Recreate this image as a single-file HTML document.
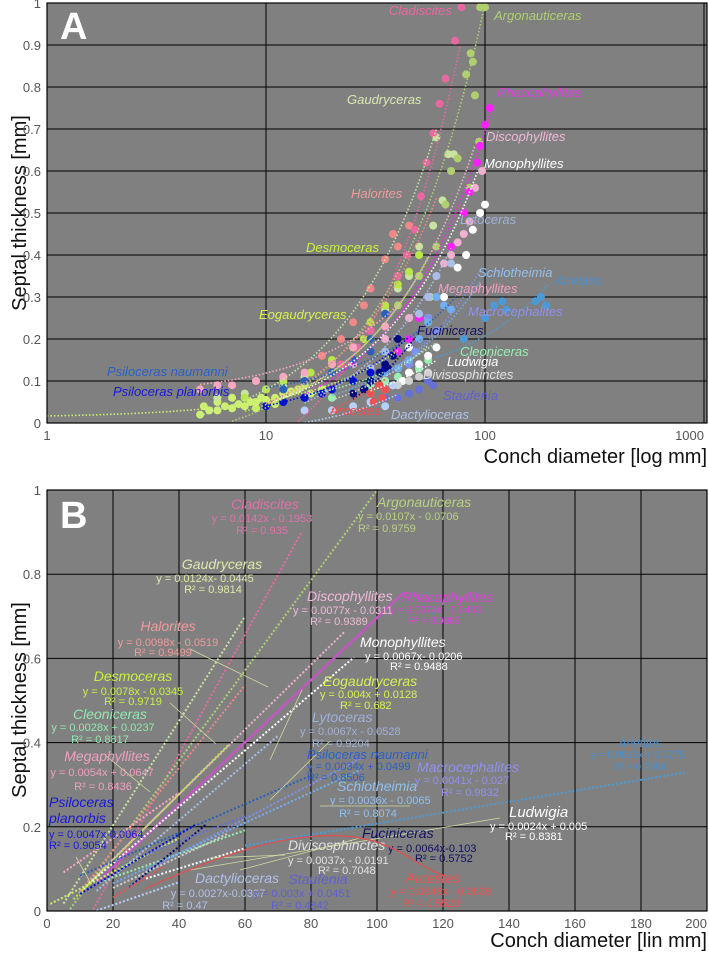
<!DOCTYPE html>
<html><head><meta charset="utf-8"><style>
html,body{margin:0;padding:0;background:#fff;}
svg{display:block;font-family:"Liberation Sans",sans-serif;}
</style></head><body>
<svg id="chart" width="709" height="955" viewBox="0 0 709 955" xmlns="http://www.w3.org/2000/svg">
<rect x="47" y="3" width="660" height="420" fill="#808080"/>
<rect x="47" y="490" width="660" height="421" fill="#808080"/>
<g id="gridA"></g>
<g id="gridB"></g>
<g id="marksA"></g>
<g id="marksB"></g>
<g id="labelsA"></g>
<g id="labelsB"></g>
<text x="60" y="39" font-size="38" font-weight="bold" fill="#fff">A</text>
<text x="60" y="528" font-size="38" font-weight="bold" fill="#fff">B</text>
<text transform="translate(26,213) rotate(-90)" text-anchor="middle" font-size="20" fill="#111">Septal thickness [mm]</text>
<text transform="translate(26,700) rotate(-90)" text-anchor="middle" font-size="20" fill="#111">Septal thickness [mm]</text>
<text x="707" y="463" text-anchor="end" font-size="20" fill="#111">Conch diameter [log mm]</text>
<text x="707" y="947" text-anchor="end" font-size="20" fill="#111">Conch diameter [lin mm]</text>
<path d="M145,889 C230,850 300,828 360,838 C400,845 420,868 445,876" fill="none" stroke="#e05050" stroke-width="1.2"/>
</svg>
<script>
const NS="http://www.w3.org/2000/svg";
// ---- data ----
const speciesNames=["Cladiscites","Argonauticeras","Gaudryceras","Rhacophyllites","Discophyllites","Monophyllites","Halorites","Desmoceras","Eogaudryceras","Lytoceras","Cleoniceras","Megaphyllites","Psiloceras naumanni","Macrocephalites","Schlotheimia","Arietites","Psiloceras planorbis","Ludwigia","Fuciniceras","Divisosphinctes","Dactylioceras","Staufenia","Arcestes"];
const fitSlopes=[0.0142,0.0107,0.0124,0.0074,0.0077,0.0067,0.0098,0.0078,0.004,0.0067,0.0028,0.0054,0.0034,0.0041,0.0036,0.0013,0.0047,0.0024,0.0064,0.0037,0.0027,0.003,0.0048];
const fitIntercepts=[-0.1953,-0.0706,-0.0445,-0.0433,-0.0311,-0.0206,-0.0519,-0.0345,0.0128,-0.0528,0.0237,0.0647,0.0499,-0.027,-0.0065,0.0775,-0.0064,0.005,-0.103,-0.0191,-0.0397,0.0451,-0.0639];
const fitMin=[14,7,5,15,10,10,10,8,1,15,15,5,10,30,20,60,10,30,25,20,15,30,20];
const fitMax=[77,100,60,108,90,93,60,55,40,70,60,40,80,95,95,194,45,60,48,55,40,60,35];
const xTicksA=[1,10,100,1000];
const yTicksA=[0,0.1,0.2,0.3,0.4,0.5,0.6,0.7,0.8,0.9,1];
const xTicksB=[0,20,40,60,80,100,120,140,160,180,200];
const yTicksB=[0,0.2,0.4,0.6,0.8,1];
const cladiscitesPts=[[78,0.99],[73,0.91],[66,0.82],[62,0.76],[58,0.69],[54,0.62],[51,0.54],[48,0.46],[44,0.40],[40,0.35],[35,0.28],[30,0.22],[26,0.18],[22,0.14]];
const argonauticerasPts=[[95,0.99],[100,0.99],[88,0.86],[86,0.88],[82,0.83],[90,0.78],[94,0.67],[85,0.56],[75,0.63],[70,0.6],[66,0.52],[60,0.42],[50,0.35],[40,0.28],[30,0.2],[20,0.14]];
const gaudrycerasPts=[[60,0.68],[68,0.64],[72,0.64],[64,0.53],[58,0.47],[56,0.3],[50,0.42],[45,0.35],[40,0.32],[35,0.27],[30,0.22],[25,0.18],[20,0.14],[15,0.11],[12,0.09],[10,0.08],[8,0.07],[6,0.06]];
const rhacophyllitesPts=[[105,0.75],[100,0.71],[95,0.66],[92,0.62],[85,0.55],[80,0.5],[70,0.42],[60,0.35],[55,0.3],[50,0.25],[45,0.2],[40,0.17],[30,0.13],[25,0.1]];
const discophyllitesPts=[[97,0.6],[90,0.56],[85,0.48],[80,0.45],[75,0.43],[70,0.4],[65,0.38],[55,0.3],[45,0.25],[35,0.2],[25,0.14]];
const monophyllitesPts=[[100,0.52],[95,0.5],[88,0.46],[82,0.4],[75,0.37],[65,0.3],[55,0.25],[45,0.18],[35,0.14]];
const haloritesPts=[[45,0.47],[40,0.42],[38,0.45],[35,0.39],[30,0.32],[28,0.28],[25,0.24],[22,0.2],[18,0.16]];
const desmocerasPts=[[50,0.4],[45,0.36],[40,0.33],[35,0.28],[30,0.24],[28,0.2],[25,0.18],[20,0.15],[16,0.12],[12,0.1],[10,0.08],[8,0.06]];
const eogaudrycerasPts=[[5,0.02],[5.5,0.03],[6,0.03],[6.5,0.04],[7,0.035],[7.5,0.045],[8,0.04],[8.5,0.05],[9,0.05],[9.5,0.06],[10,0.055],[11,0.06],[12,0.07],[13,0.075],[14,0.08],[15,0.09],[6,0.05],[7,0.06],[8,0.06],[5.2,0.04],[9,0.035],[10,0.04],[11,0.045],[16,0.07],[18,0.08]];
const lytocerasPts=[[70,0.38],[60,0.35],[55,0.3],[50,0.26],[40,0.2],[35,0.17],[30,0.13],[25,0.1]];
const cleonicerasPts=[[55,0.15],[50,0.13],[45,0.12],[40,0.11],[35,0.1],[30,0.09],[25,0.07],[20,0.06]];
const megaphyllitesPts=[[5,0.08],[6,0.09],[7,0.09],[9,0.1],[12,0.11],[15,0.12],[20,0.14],[25,0.18],[30,0.2],[35,0.23]];
const naumanniPts=[[35,0.26],[30,0.2],[25,0.15],[20,0.12],[15,0.1],[12,0.08],[30,0.17]];
const macrocephalitesPts=[[60,0.22],[55,0.25],[50,0.2],[48,0.17],[45,0.14],[40,0.13]];
const schlotheimiaPts=[[60,0.3],[65,0.28],[70,0.27],[55,0.24],[50,0.2],[45,0.15],[40,0.13],[35,0.12]];
const arietitesPts=[[110,0.28],[120,0.29],[125,0.27],[170,0.29],[180,0.3],[190,0.28],[100,0.25],[80,0.2]];
const planorbisPts=[[10,0.04],[12,0.05],[15,0.06],[18,0.07],[20,0.08],[25,0.1],[30,0.12],[35,0.13]];
const ludwigiaPts=[[60,0.18],[55,0.16],[50,0.14],[45,0.12],[42,0.1],[38,0.09]];
const fucinicerasPts=[[40,0.2],[38,0.16],[35,0.14],[33,0.12],[30,0.1],[28,0.08],[25,0.07],[36,0.13]];
const divisosphinctesPts=[[55,0.12],[50,0.11],[45,0.1],[40,0.09],[35,0.08],[30,0.07]];
const dactyliocerasPts=[[40,0.06],[35,0.04],[30,0.05],[25,0.04],[20,0.03],[15,0.03],[38,0.09]];
const staufeniaPts=[[58,0.09],[50,0.08],[45,0.07],[40,0.06],[35,0.06],[55,0.1]];
const arcestesPts=[[33,0.09],[35,0.08],[30,0.07],[34,0.06],[31,0.05]];
const pointSets=[cladiscitesPts,argonauticerasPts,gaudrycerasPts,rhacophyllitesPts,discophyllitesPts,monophyllitesPts,haloritesPts,desmocerasPts,eogaudrycerasPts,lytocerasPts,cleonicerasPts,megaphyllitesPts,naumanniPts,macrocephalitesPts,schlotheimiaPts,arietitesPts,planorbisPts,ludwigiaPts,fucinicerasPts,divisosphinctesPts,dactyliocerasPts,staufeniaPts,arcestesPts];
// ---- styles ----
const speciesColors=["#e868a0","#b0d070","#c8e4a0","#ff20ff","#f0b0d0","#ffffff","#f08888","#b8e848","#cdf070","#a8c0e8","#98f0b0","#f8a8c0","#2a60b8","#8090f0","#70b0f0","#4a9ad8","#0010d0","#ffffff","#000a80","#d0d0d0","#b8d0f8","#6670d8","#f05050"];
// ---- axes ----
function ax(d){return 47+219*Math.log10(d);}
function ay(t){return 423-420*t;}
function bx(x){return 47+x*3.3;}
function by(t){return 911-421*t;}
function mk(tag,attrs,parent){const e=document.createElementNS(NS,tag);for(const k in attrs)e.setAttribute(k,attrs[k]);parent.appendChild(e);return e;}
const gridA=document.getElementById('gridA'),gridB=document.getElementById('gridB');
const marksA=document.getElementById('marksA'),marksB=document.getElementById('marksB');
const svg=document.getElementById('chart');
yTicksA.forEach(t=>{
  const l=mk('line',{x1:47,x2:707,y1:ay(t),y2:ay(t),stroke:'#000','stroke-width':1},gridA);
  
  
  const tx=mk('text',{x:41,y:ay(t)+5,'text-anchor':'end','font-size':13,fill:'#555'},svg);
  tx.textContent=String(t);
  
  
});
xTicksA.forEach(d=>{
  const l=mk('line',{x1:ax(d),x2:ax(d),y1:3,y2:423,stroke:'#000','stroke-width':1},gridA);
  
  
  const tx=mk('text',{x:ax(d),y:440,'text-anchor':d===1000?'end':'middle','font-size':13,fill:'#555'},svg);
  tx.textContent=String(d);
  
  
});
yTicksB.forEach(t=>{
  const l=mk('line',{x1:47,x2:707,y1:by(t),y2:by(t),stroke:'#000','stroke-width':1},gridB);
  
  
  const tx=mk('text',{x:41,y:by(t)+5,'text-anchor':'end','font-size':13,fill:'#555'},svg);
  tx.textContent=String(t);
  
  
});
xTicksB.forEach(x=>{
  const l=mk('line',{x1:bx(x),x2:bx(x),y1:490,y2:911,stroke:'#000','stroke-width':1},gridB);
  
  
  const tx=mk('text',{x:bx(x),y:928,'text-anchor':x===200?'end':'middle','font-size':13,fill:'#555'},svg);
  tx.textContent=String(x);
  
  
});
const order=[8,2,1,0,7,11,6,4,3,5,9,10,12,13,14,15,16,17,18,19,20,21,22];
order.forEach(i=>{
  const slug=speciesNames[i].toLowerCase().replace(/ /g,'-');
  pointSets[i].forEach(p=>{
    const c=mk('circle',{cx:ax(p[0]),cy:ay(p[1]),r:4,fill:speciesColors[i]},marksA);
    
    
  });
});
speciesNames.forEach((n,i)=>{
  const slug=n.toLowerCase().replace(/ /g,'-');
  const a=fitSlopes[i],b=fitIntercepts[i];
  let pts=[];
  const steps=30;
  for(let k=0;k<=steps;k++){
    const x=fitMin[i]*Math.pow(fitMax[i]/fitMin[i],k/steps);
    const y=Math.max(0,a*x+b);
    pts.push(ax(x).toFixed(1)+','+ay(y).toFixed(1));
  }
  const pa=mk('polyline',{points:pts.join(' '),fill:'none',stroke:speciesColors[i],'stroke-width':1.6,'stroke-dasharray':'1.5,2'},marksA);
  
  
  let x0=Math.max(fitMin[i],b<0?-b/a:0);
  const isRh=i===3;
  const pb=mk('line',{x1:bx(x0),y1:by(a*x0+b),x2:bx(fitMax[i]),y2:by(a*fitMax[i]+b),stroke:isRh?'#c058c0':speciesColors[i],'stroke-width':isRh?2.5:2,'stroke-dasharray':isRh?'none':'2,2'},marksB);
  
  
});
const leaders=[[190,649,268,687],[170,703,216,744],[105,755,150,792],[76,857,90,882],[285,855,210,858],[410,806,320,806],[360,838,240,870],[500,818,190,870],[330,741,270,800],[302,690,270,760]];
leaders.forEach(L=>{
  const l=mk('line',{x1:L[0],y1:L[1],x2:L[2],y2:L[3],stroke:'#d0dca0','stroke-width':0.8},marksB);
  
  
});
function lab(g,txt,x,y,col,size,anchor,italic,name){
  const t=mk('text',{x:x,y:y,fill:col,'font-size':size,'text-anchor':anchor,'font-style':italic?'italic':'normal'},g);
  t.textContent=txt;
  
  
}
const LA=document.getElementById('labelsA');
const labelsA=[["Cladiscites",389,15,"#e868a0"],["Argonauticeras",494,20,"#b0d070"],["Gaudryceras",347,104,"#d8e8b0"],["Rhacophyllites",497,97,"#e040e0"],["Discophyllites",486,141,"#f0b8d8"],["Monophyllites",484,168,"#ffffff"],["Halorites",351,198,"#f09a9a"],["Lytoceras",460,224,"#a0b0d8"],["Desmoceras",306,252,"#c8f040"],["Schlotheimia",478,277,"#90c0f0"],["Arietites",555,285,"#4a90d0"],["Megaphyllites",438,293,"#f0a0c0"],["Eogaudryceras",259,319,"#d8f050"],["Macrocephalites",468,316,"#9090f0"],["Fuciniceras",417,335,"#101060"],["Cleoniceras",460,356,"#98f0b0"],["Ludwigia",447,366,"#ffffff"],["Divisosphinctes",423,379,"#e0e0e0"],["Staufenia",443,400,"#6060d0"],["Arcestes",330,415,"#f05050"],["Dactylioceras",391,419,"#b0c0e8"],["Psiloceras naumanni",107,376,"#2a60c8"],["Psiloceras planorbis",113,396,"#1818d8"]];
labelsA.forEach(l=>lab(LA,l[0],l[1],l[2],l[3],13,'start',true,'label-a-'+l[0].toLowerCase().replace(/ /g,'-')));
const LB=document.getElementById('labelsB');
const labelsB=[
["Cladiscites",265,509,"#e070a8",14,"middle",1],["y = 0.0142x - 0.1953",262,522,"#e070a8",11,"middle",0],["R² = 0.935",262,534,"#e070a8",11,"middle",0],
["Argonauticeras",377,507,"#b8d080",14,"start",1],["y = 0.0107x - 0.0706",358,520,"#b8d080",11,"start",0],["R² = 0.9759",358,532,"#b8d080",11,"start",0],
["Gaudryceras",222,569,"#dfeaa8",14,"middle",1],["y = 0.0124x- 0.0445",205,582,"#dfeaa8",11,"middle",0],["R² = 0.9814",213,593,"#dfeaa8",11,"middle",0],
["Discophyllites",307,601,"#f0b8d8",14,"start",1],["y = 0.0077x - 0.0311",293,614,"#f0b8d8",11,"start",0],["R² = 0.9389",310,625,"#f0b8d8",11,"start",0],
["Rhacophyllites",402,602,"#e040e0",14,"start",1],["y = 0.0074x - 0.0433",390,613,"#e040e0",10,"start",0],["R² = 0.9889",408,624,"#e040e0",10,"start",0],
["Halorites",168,631,"#f09a9a",14,"middle",1],["y = 0.0098x - 0.0519",168,646,"#f09a9a",11,"middle",0],["R² = 0.9499",163,656,"#f09a9a",11,"middle",0],
["Monophyllites",360,647,"#ffffff",14,"start",1],["y = 0.0067x- 0.0206",365,660,"#ffffff",11,"start",0],["R² = 0.9488",390,670,"#ffffff",11,"start",0],
["Desmoceras",133,681,"#c8f040",14,"middle",1],["y = 0.0078x - 0.0345",133,695,"#c8f040",11,"middle",0],["R² = 0.9719",133,705,"#c8f040",11,"middle",0],
["Eogaudryceras",323,686,"#d8f050",14,"start",1],["y = 0.004x + 0.0128",320,698,"#d8f050",11,"start",0],["R² = 0.682",340,709,"#d8f050",11,"start",0],
["Cleoniceras",73,719,"#90e8b0",14,"start",1],["y = 0.0028x + 0.0237",103,731,"#90e8b0",11,"middle",0],["R² = 0.8817",100,743,"#90e8b0",11,"middle",0],
["Lytoceras",312,722,"#a0b0d8",14,"start",1],["y = 0.0067x - 0.0528",300,735,"#a0b0d8",11,"start",0],["R² = 0.9204",312,747,"#a0b0d8",11,"start",0],
["Megaphyllites",107,761,"#f0a0c0",14,"middle",1],["y = 0.0054x + 0.0647",102,776,"#f0a0c0",11,"middle",0],["R² = 0.8436",103,790,"#f0a0c0",11,"middle",0],
["Psiloceras naumanni",307,759,"#2a60c8",13,"start",1],["y = 0.0034x + 0.0499",307,770,"#2a60c8",11,"start",0],["R² = 0.8506",307,781,"#2a60c8",11,"start",0],
["Macrocephalites",468,772,"#9090f0",14,"middle",1],["y = 0.0041x - 0.027",462,784,"#9090f0",11,"middle",0],["R² = 0.9832",470,796,"#9090f0",11,"middle",0],
["Schlotheimia",337,791,"#90c0f0",14,"start",1],["y = 0.0036x - 0.0065",330,804,"#90c0f0",11,"start",0],["R² = 0.8074",368,817,"#90c0f0",11,"middle",0],
["Arietites",640,747,"#4a90d0",12,"middle",1],["y = 0.0013x + 0.0775",638,758,"#4a90d0",10,"middle",0],["R² = 0.7984",640,770,"#4a90d0",10,"middle",0],
["Psiloceras",49,807,"#1818d8",14,"start",1],["planorbis",49,823,"#1818d8",14,"start",1],["y = 0.0047x-0.0064",49,838,"#1818d8",11,"start",0],["R² = 0.9054",49,849,"#1818d8",11,"start",0],
["Ludwigia",509,817,"#ffffff",15,"start",1],["y = 0.0024x + 0.005",490,830,"#ffffff",11,"start",0],["R² = 0.8381",505,840,"#ffffff",11,"start",0],
["Fuciniceras",362,838,"#101060",14,"start",1],["y = 0.0064x-0.103",388,852,"#101060",11,"start",0],["R² = 0.5752",415,862,"#101060",11,"start",0],
["Divisosphinctes",288,850,"#e0e0e0",14,"start",1],["y = 0.0037x - 0.0191",288,864,"#e0e0e0",11,"start",0],["R² = 0.7048",318,874,"#e0e0e0",11,"start",0],
["Dactylioceras",237,883,"#b0c0e8",14,"middle",1],["y = 0.0027x-0.0397",218,897,"#b0c0e8",11,"middle",0],["R² = 0.47",185,909,"#b0c0e8",11,"middle",0],
["Staufenia",318,884,"#6060d0",14,"middle",1],["y = 0.003x + 0.0451",302,897,"#6060d0",11,"middle",0],["R² = 0.4842",300,909,"#6060d0",11,"middle",0],
["Arcestes",433,883,"#f05050",14,"middle",1],["y = 0.0048x - 0.0639",441,895,"#f05050",11,"middle",0],["R² = 0.5523",431,907,"#f05050",11,"middle",0]];
labelsB.forEach(l=>lab(LB,l[0],l[1],l[2],l[3],l[4],l[5],l[6],'label-b-'+l[0].toLowerCase().replace(/[^a-z0-9]+/g,'-')));
const ba=mk('rect',{x:47,y:3,width:660,height:420,fill:'none',stroke:'#000','stroke-width':1.2},svg);


const bb=mk('rect',{x:47,y:490,width:660,height:421,fill:'none',stroke:'#000','stroke-width':1.2},svg);


</script>
</body></html>
